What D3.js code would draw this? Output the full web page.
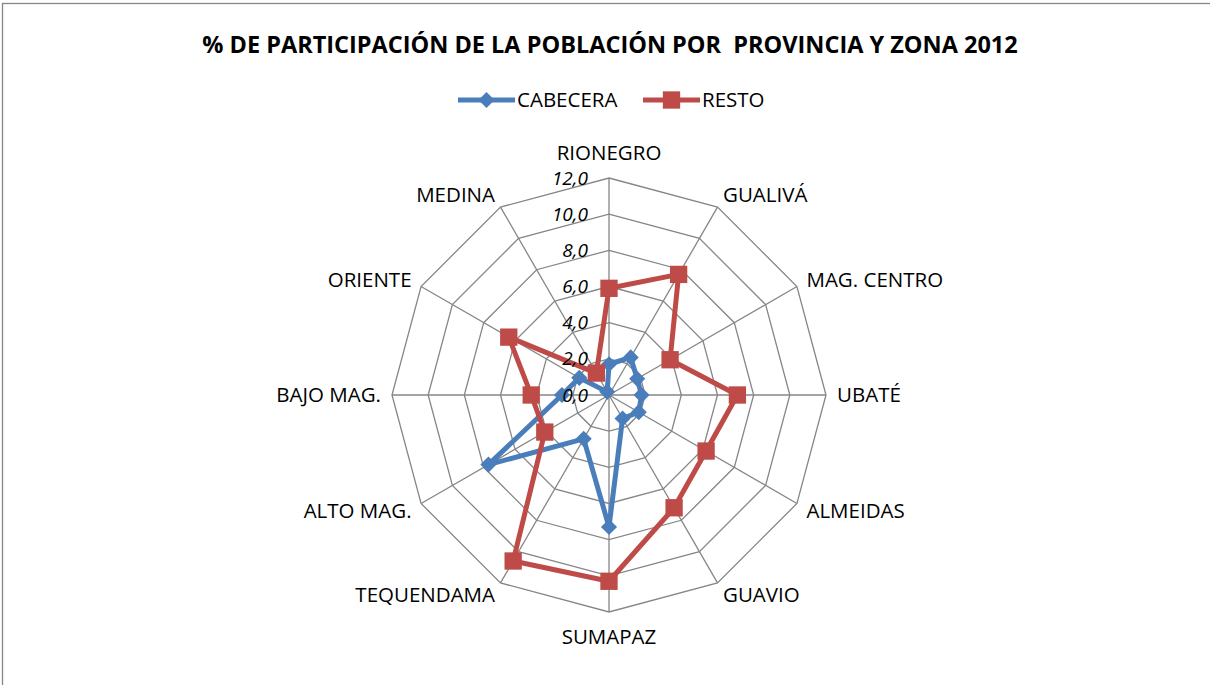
<!DOCTYPE html>
<html>
<head>
<meta charset="utf-8">
<script src="https://cdn.jsdelivr.net/npm/d3@7"></script>
<style>
  body { margin: 0; background: #fff; }
  text { font-family: 'Open Sans', sans-serif; fill: #000; }
</style>
</head>
<body>
<svg id="chart" width="1210" height="685"></svg>
<script>
const provinces = ['RIONEGRO', 'GUALIVÁ', 'MAG. CENTRO', 'UBATÉ', 'ALMEIDAS', 'GUAVIO',
  'SUMAPAZ', 'TEQUENDAMA', 'ALTO MAG.', 'BAJO MAG.', 'ORIENTE', 'MEDINA'];
const cabecera = [1.7, 2.4, 1.8, 1.8, 1.9, 1.5, 7.3, 2.8, 7.7, 2.6, 1.9, 0.2];
const resto = [5.9, 7.7, 3.9, 7.1, 6.2, 7.2, 10.3, 10.6, 4.1, 4.3, 6.4, 1.4];
const ticks = [0, 2, 4, 6, 8, 10, 12];
const seriesNames = ['CABECERA', 'RESTO'];

const width = 1210, height = 685;
const cx = 609, cy = 395, R = 217;
const colors = { CABECERA: '#4A7EBB', RESTO: '#BE4B48' };

const svg = d3.select('#chart');

// frame
svg.append('rect')
  .attr('x', 2.5).attr('y', 3.5)
  .attr('width', width + 10).attr('height', height + 10)
  .attr('fill', 'none').attr('stroke', '#868686').attr('stroke-width', 1.3);

svg.append('text')
  .attr('x', 610).attr('y', 53)
  .attr('text-anchor', 'middle')
  .attr('font-weight', 'bold')
  .attr('font-size', '23.5px')
  .style('white-space', 'pre')
  .text('% DE PARTICIPACIÓN DE LA POBLACIÓN POR  PROVINCIA Y ZONA 2012');

const r = d3.scaleLinear().domain([0, 12]).range([0, R]);
const angle = d3.scalePoint().domain(provinces).range([0, 2 * Math.PI * 11 / 12]);

const g = svg.append('g').attr('transform', `translate(${cx},${cy})`);

const pt = (name, v) => {
  const a = angle(name);
  return [r(v) * Math.sin(a), -r(v) * Math.cos(a)];
};

// grid rings
g.selectAll('.ring')
  .data(ticks.slice(1))
  .join('polygon')
  .attr('class', 'ring')
  .attr('points', t => provinces.map(p => pt(p, t).join(',')).join(' '))
  .attr('fill', 'none')
  .attr('stroke', '#868686')
  .attr('stroke-width', 1.3);

// spokes
g.selectAll('.spoke')
  .data(provinces)
  .join('line')
  .attr('class', 'spoke')
  .attr('x1', 0).attr('y1', 0)
  .attr('x2', p => pt(p, 12)[0])
  .attr('y2', p => pt(p, 12)[1])
  .attr('stroke', '#868686')
  .attr('stroke-width', 1.3);

// category labels
g.selectAll('.cat')
  .data(provinces)
  .join('text')
  .attr('class', 'cat')
  .attr('x', p => (R + 11) * Math.sin(angle(p)))
  .attr('y', p => {
    const a = angle(p);
    const s = Math.abs(Math.sin(a)) < 0.01 ? 14 : 3;
    return -(R + 11 + s) * Math.cos(a);
  })
  .attr('dy', '0.35em')
  .attr('text-anchor', p => {
    const s = Math.sin(angle(p));
    return s > 0.01 ? 'start' : s < -0.01 ? 'end' : 'middle';
  })
  .attr('font-size', '20.5px')
  .text(p => p);

// series
const line = d3.lineRadial()
  .angle((d, i) => angle(provinces[i]))
  .radius(d => r(d))
  .curve(d3.curveLinearClosed);

const series = [
  { name: 'CABECERA', values: cabecera, symbol: d3.symbolSquare, size: 130, rot: 45 },
  { name: 'RESTO', values: resto, symbol: d3.symbolSquare, size: 300, rot: 0 }
];

series.forEach(s => {
  g.append('path')
    .datum(s.values)
    .attr('d', line)
    .attr('fill', 'none')
    .attr('stroke', colors[s.name])
    .attr('stroke-width', 5)
    .attr('stroke-linejoin', 'round');
  g.selectAll('.m-' + s.name)
    .data(s.values)
    .join('path')
    .attr('class', 'm-' + s.name)
    .attr('transform', (d, i) => `translate(${pt(provinces[i], d).join(',')}) rotate(${s.rot})`)
    .attr('d', d3.symbol().type(s.symbol).size(s.size))
    .attr('fill', colors[s.name]);
});

// radial axis tick labels
g.selectAll('.tick')
  .data(ticks)
  .join('text')
  .attr('class', 'tick')
  .attr('x', -21)
  .attr('y', t => -r(t))
  .attr('dy', '0.35em')
  .attr('text-anchor', 'end')
  .attr('font-style', 'italic')
  .attr('font-size', '19px')
  .text(t => d3.format('.1f')(t).replace('.', ','));

// legend
const legend = svg.append('g').attr('transform', 'translate(0,100)');
const legX = [458, 643];
series.forEach((s, i) => {
  const lg = legend.append('g').attr('transform', `translate(${legX[i]},0)`);
  lg.append('line').attr('x1', 0).attr('x2', 57).attr('y1', 0).attr('y2', 0)
    .attr('stroke', colors[s.name]).attr('stroke-width', 5);
  lg.append('path').attr('transform', `translate(28.5,0) rotate(${s.rot})`)
    .attr('d', d3.symbol().type(s.symbol).size(s.size))
    .attr('fill', colors[s.name]);
  lg.append('text').attr('x', 59).attr('dy', '0.35em')
    .attr('font-size', '20.5px').text(seriesNames[i]);
});
</script>
</body>
</html>
